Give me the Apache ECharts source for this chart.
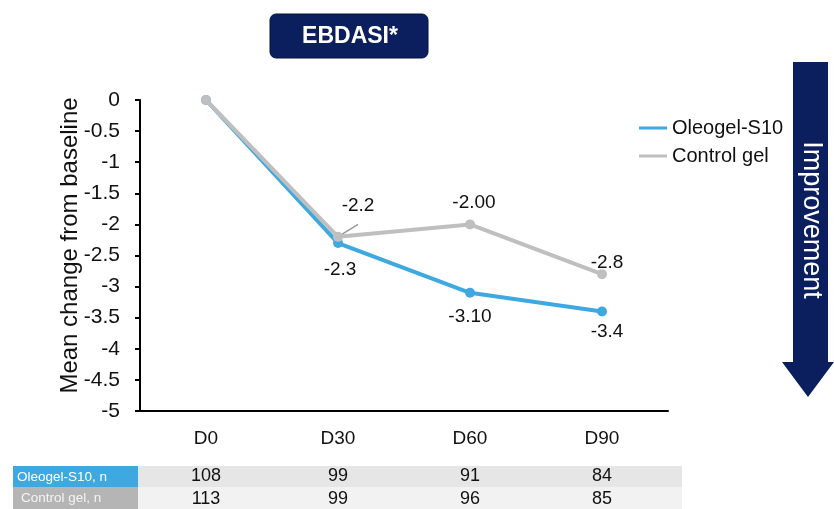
<!DOCTYPE html>
<html>
<head>
<meta charset="utf-8">
<script src="https://cdn.jsdelivr.net/npm/echarts@6/dist/echarts.min.js"></script>
<style>
  html, body { margin: 0; padding: 0; background: #fff; }
  #chart { width: 834px; height: 509px; }
</style>
</head>
<body>
<div id="chart"></div>
<script>
const categories = ["D0", "D30", "D60", "D90"];
const oleogel = [0, -2.3, -3.1, -3.4];
const control = [0, -2.2, -2.0, -2.8];
const oleogelLabels = ["", "-2.3", "-3.10", "-3.4"];
const controlLabels = ["", "-2.2", "-2.00", "-2.8"];
const oleogelN = [108, 99, 91, 84];
const controlN = [113, 99, 96, 85];

const BLUE = "#3ea8e0";
const GREY = "#bfbfbf";
const NAVY = "#0b1f5e";
const FONT = "Liberation Sans";

// label offsets, purely styling
const oleoOffsets = [[0, 0], [2, 7], [0, 4], [5, 1]];
const ctrlOffsets = [[0, 0], [20, -12], [4, -2], [5, 8]];

function buildData(values, labels, pos, offsets, leader) {
  return values.map(function (v, i) {
    return {
      value: v,
      label: {
        show: labels[i] !== "",
        formatter: labels[i],
        position: pos,
        offset: offsets[i]
      },
      labelLine: { show: leader && i === 1, lineStyle: { color: "#999", width: 1.5 } }
    };
  });
}

const myChart = echarts.init(document.getElementById("chart"));

let option = {
  animation: false,
  textStyle: { fontFamily: FONT },
  legend: {
    orient: "vertical",
    left: 634,
    top: 113,
    itemWidth: 28,
    itemHeight: 3,
    itemGap: 8,
    icon: "rect",
    textStyle: { fontFamily: FONT, fontSize: 20, color: "#111" },
    data: ["Oleogel-S10", "Control gel"]
  },
  grid: { left: 140, right: 166, top: 100, bottom: 98 },
  xAxis: [
    {
      type: "category",
      data: categories,
      axisLine: { onZero: false, lineStyle: { color: "#000", width: 2 } },
      axisTick: { show: false },
      axisLabel: { color: "#111", fontSize: 19, margin: 18, fontFamily: FONT }
    },
    {
      type: "category",
      data: oleogelN,
      position: "bottom",
      offset: 56,
      axisLine: { show: false, onZero: false },
      axisTick: { show: false },
      axisLabel: { color: "#111", fontSize: 18, margin: 0, fontFamily: FONT }
    },
    {
      type: "category",
      data: controlN,
      position: "bottom",
      offset: 79,
      axisLine: { show: false, onZero: false },
      axisTick: { show: false },
      axisLabel: { color: "#111", fontSize: 18, margin: 0, fontFamily: FONT }
    }
  ],
  yAxis: {
    type: "value",
    min: -5,
    max: 0,
    interval: 0.5,
    name: "Mean change from baseline",
    nameLocation: "middle",
    nameGap: 58,
    nameMoveOverlap: false,
    nameTextStyle: { color: "#111", fontSize: 24, fontFamily: FONT, padding: [0, 0, 0, 20] },
    axisLine: { show: true, lineStyle: { color: "#000", width: 2 } },
    axisTick: { show: true, length: 5, lineStyle: { color: "#000", width: 2 } },
    axisLabel: { color: "#111", fontSize: 21, margin: 20, fontFamily: FONT },
    splitLine: { show: false }
  },
  series: [
    {
      name: "Control gel",
      type: "line",
      data: buildData(control, controlLabels, "top", ctrlOffsets, true),
      symbol: "circle",
      symbolSize: 10,
      color: GREY,
      lineStyle: { width: 4, color: GREY },
      label: { color: "#111", fontSize: 19, fontFamily: FONT },
      z: 2
    },
    {
      name: "Oleogel-S10",
      type: "line",
      data: buildData(oleogel, oleogelLabels, "bottom", oleoOffsets, false),
      symbol: "circle",
      symbolSize: 10,
      color: BLUE,
      lineStyle: { width: 4, color: BLUE },
      label: { color: "#111", fontSize: 19, fontFamily: FONT },
      z: 1
    }
  ],
  graphic: [
    // title box
    {
      type: "rect",
      shape: { x: 270, y: 14, width: 158, height: 44, r: 6 },
      style: { fill: NAVY, stroke: "#06133d", lineWidth: 1 }
    },
    {
      type: "text",
      x: 350,
      y: 37,
      style: {
        text: "EBDASI*",
        fill: "#fff",
        font: "bold 23px " + FONT,
        textAlign: "center",
        textVerticalAlign: "middle"
      }
    },
    // improvement arrow
    {
      type: "polygon",
      shape: {
        points: [[793, 62], [828, 62], [828, 362], [834, 362], [808, 397], [782, 362], [793, 362]]
      },
      style: { fill: NAVY }
    },
    {
      type: "text",
      x: 811,
      y: 220,
      rotation: -Math.PI / 2,
      style: {
        text: "Improvement",
        fill: "#fff",
        font: "27px " + FONT,
        textAlign: "center",
        textVerticalAlign: "middle"
      }
    },
    // n table backgrounds
    {
      type: "rect",
      z: -10,
      shape: { x: 138, y: 466, width: 544, height: 21 },
      style: { fill: "#e6e6e6" }
    },
    {
      type: "rect",
      z: -10,
      shape: { x: 138, y: 487, width: 544, height: 22 },
      style: { fill: "#f2f2f2" }
    },
    {
      type: "rect",
      shape: { x: 13, y: 466, width: 125, height: 21 },
      style: { fill: BLUE }
    },
    {
      type: "rect",
      shape: { x: 13, y: 487, width: 125, height: 22 },
      style: { fill: "#b5b5b5" }
    },
    {
      type: "text",
      x: 17,
      y: 477,
      style: { text: "Oleogel-S10, n", fill: "#fff", font: "13.5px " + FONT, textVerticalAlign: "middle" }
    },
    {
      type: "text",
      x: 21,
      y: 498,
      style: { text: "Control gel, n", fill: "#f4f4f4", font: "13.5px " + FONT, textVerticalAlign: "middle" }
    }
  ]
};

myChart.setOption(option);
</script>
</body>
</html>
